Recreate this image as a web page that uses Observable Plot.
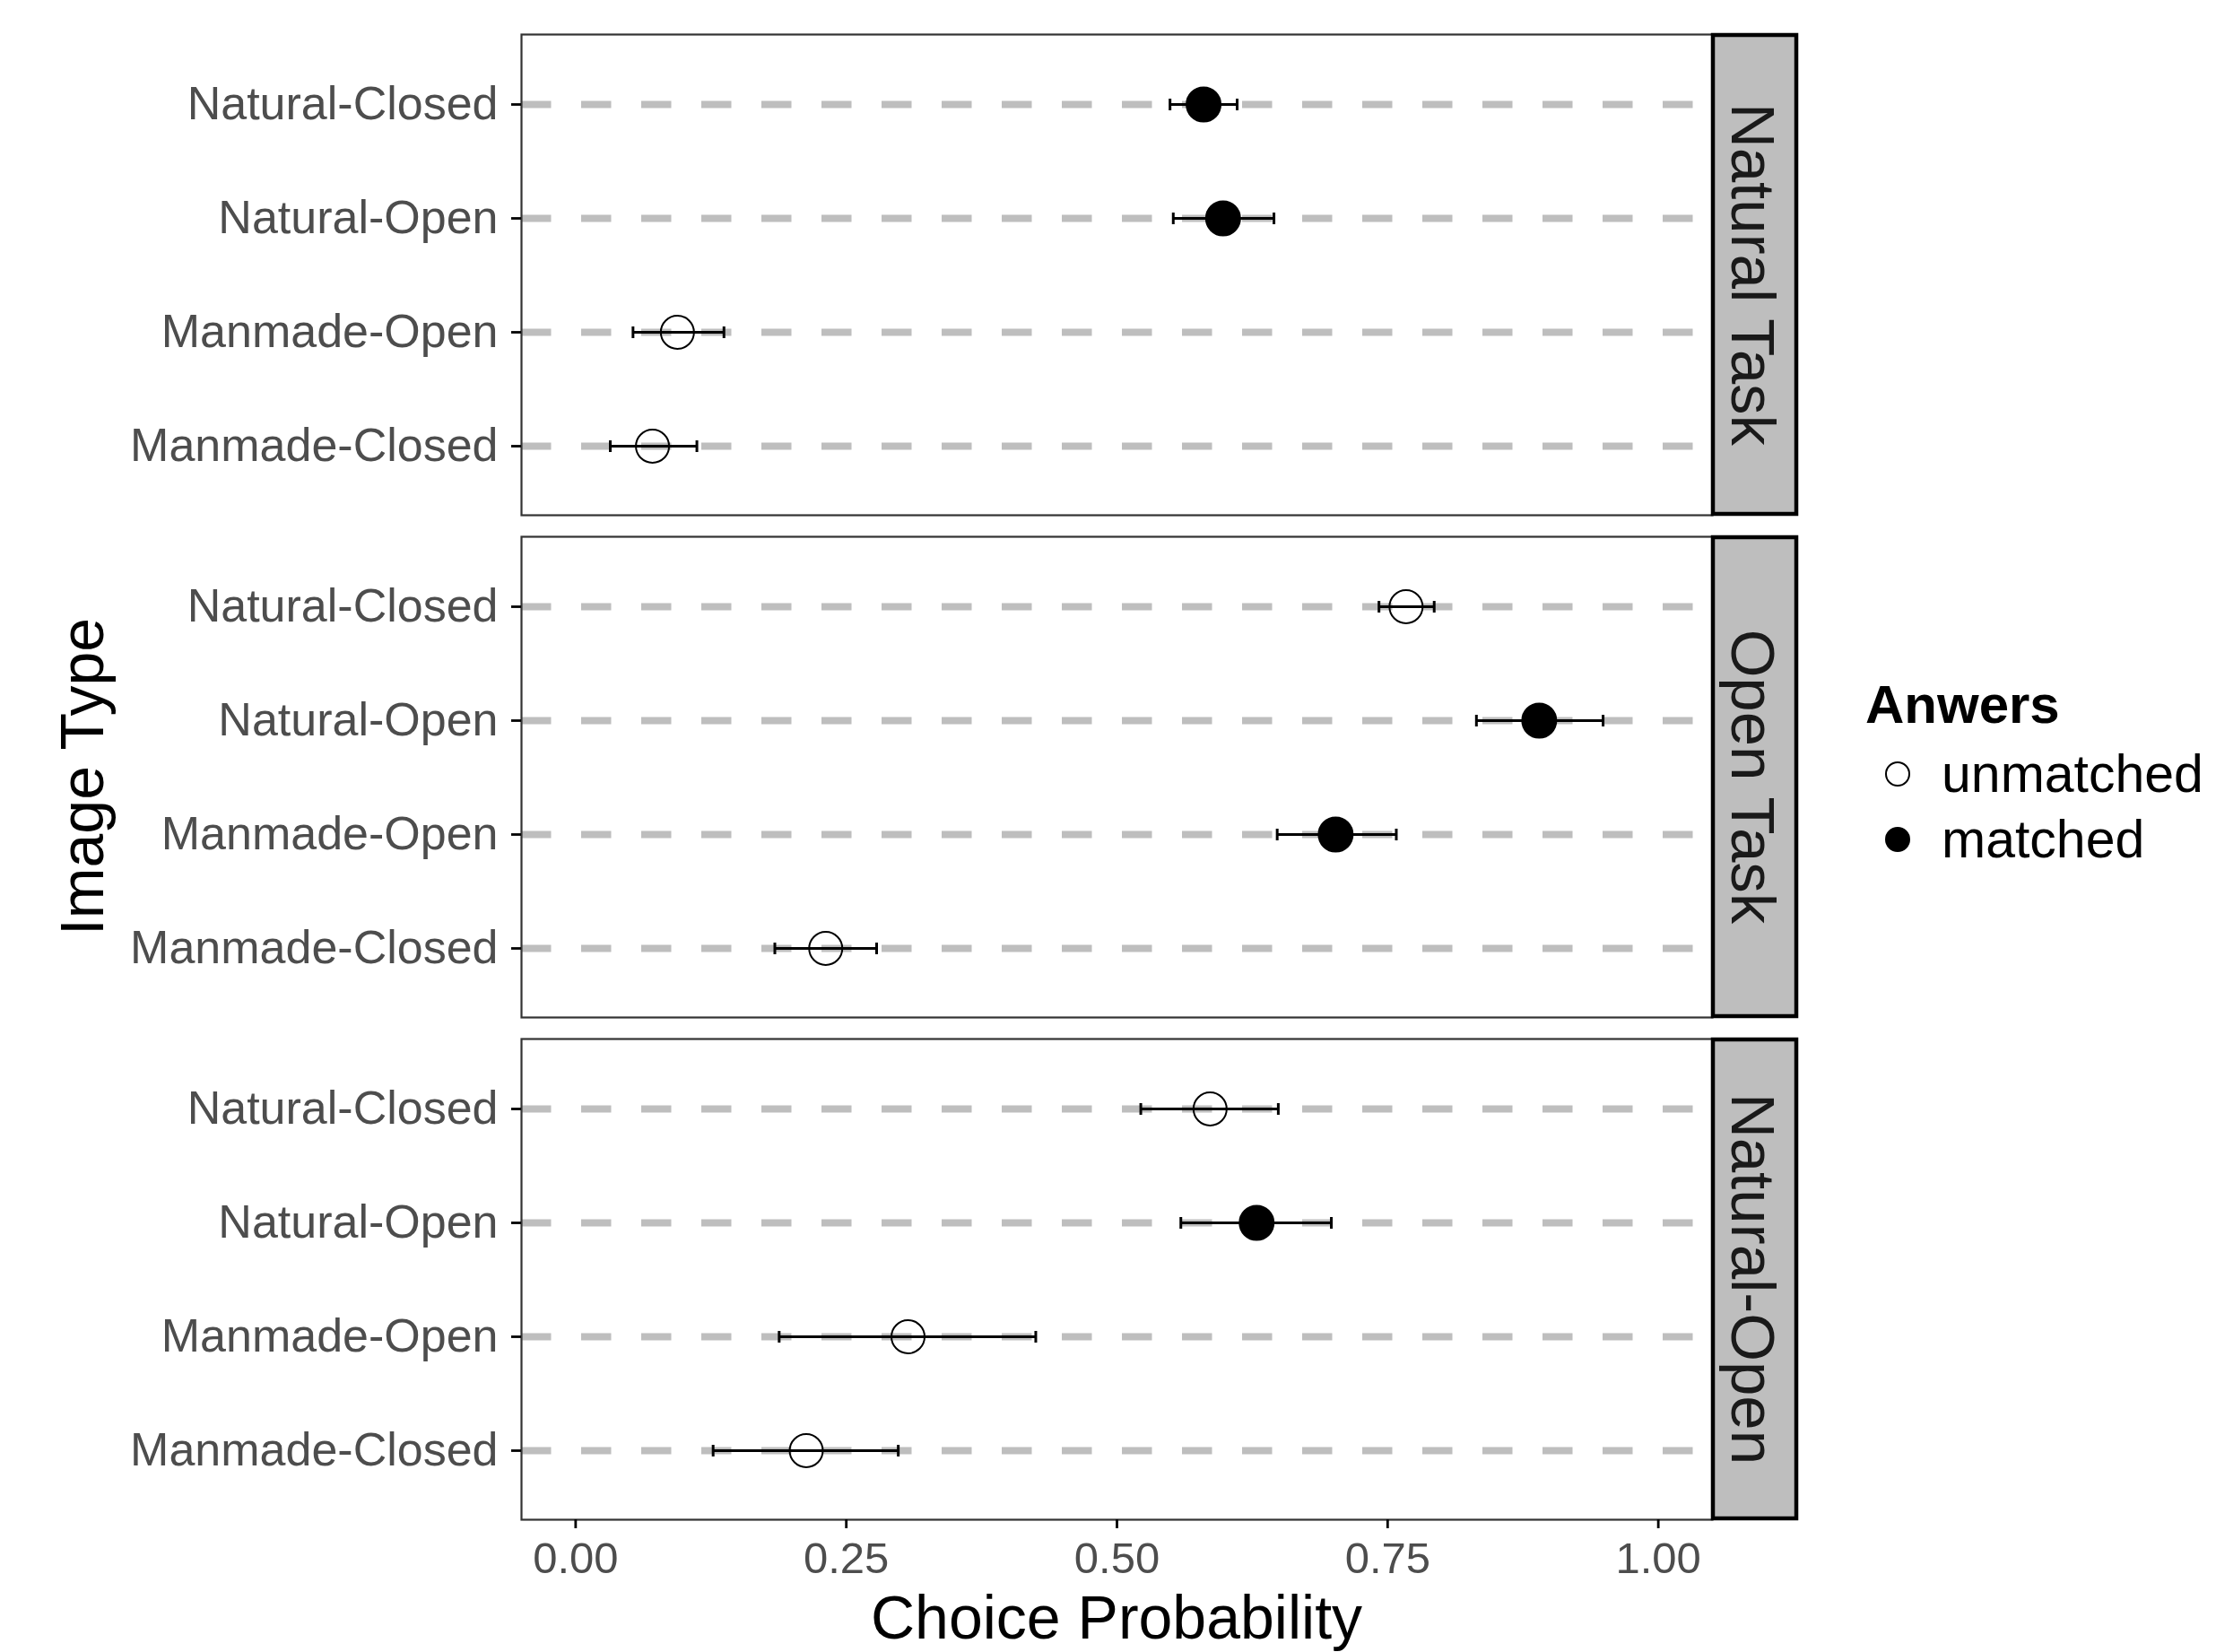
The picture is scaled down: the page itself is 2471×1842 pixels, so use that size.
<!DOCTYPE html>
<html>
<head>
<meta charset="utf-8">
<script src="https://cdn.jsdelivr.net/npm/d3@7"></script>
<script src="https://cdn.jsdelivr.net/npm/@observablehq/plot@0.6"></script>
<style>
  html, body { margin: 0; padding: 0; background: #fff; }
  #chart { position: relative; width: 2471px; height: 1842px; }
  #chart svg { font-family: "Liberation Sans", Arial, sans-serif; }
  [aria-label="y-axis tick"], [aria-label="x-axis tick"] { stroke: #333333; }
  [aria-label="y-axis tick label"], [aria-label="x-axis tick label"] { fill: #4d4d4d; }
</style>
</head>
<body>
<div id="chart"></div>
<script>
// ---- data ----
const panels = ["Natural Task", "Open Task", "Natural-Open"];
const imageTypes = ["Natural-Closed", "Natural-Open", "Manmade-Open", "Manmade-Closed"];
const answerLevels = ["unmatched", "matched"];

const task = [
  "Natural Task", "Natural Task", "Natural Task", "Natural Task",
  "Open Task", "Open Task", "Open Task", "Open Task",
  "Natural-Open", "Natural-Open", "Natural-Open", "Natural-Open"
];
const imageType = [
  "Natural-Closed", "Natural-Open", "Manmade-Open", "Manmade-Closed",
  "Natural-Closed", "Natural-Open", "Manmade-Open", "Manmade-Closed",
  "Natural-Closed", "Natural-Open", "Manmade-Open", "Manmade-Closed"
];
const answer = [
  "matched", "matched", "unmatched", "unmatched",
  "unmatched", "matched", "matched", "unmatched",
  "unmatched", "matched", "unmatched", "unmatched"
];
const prob  = [0.580, 0.598, 0.094, 0.071, 0.767, 0.890, 0.702, 0.231, 0.586, 0.629, 0.307, 0.213];
const lower = [0.549, 0.552, 0.053, 0.032, 0.742, 0.832, 0.648, 0.184, 0.522, 0.559, 0.188, 0.127];
const upper = [0.611, 0.645, 0.137, 0.112, 0.793, 0.949, 0.758, 0.278, 0.649, 0.698, 0.425, 0.298];
const xTicks = [0, 0.25, 0.5, 0.75, 1];

const xTitle = "Choice Probability";
const yTitle = "Image Type";
const legendTitle = "Anwers";

// table built from the arrays
const rows = task.map((t, i) => ({
  task: t, imageType: imageType[i], answer: answer[i],
  prob: prob[i], lower: lower[i], upper: upper[i]
}));
const gridRows = panels.flatMap(p => imageTypes.map(it => ({task: p, imageType: it})));

const W = 2471, H = 1842;
const fontFamily = '"Liberation Sans", Arial, sans-serif';

// vertical line symbol for error-bar caps
const capSymbol = {
  draw(context, size) {
    const r = Math.sqrt(size / Math.PI);
    context.moveTo(0, -r);
    context.lineTo(0, r);
  }
};

const chart = Plot.plot({
  width: W,
  height: H,
  marginLeft: 581,
  marginRight: W - 1909,
  marginTop: 37,
  marginBottom: H - 1695,
  style: {background: "white", fontFamily, overflow: "visible"},
  x: {domain: [-0.05, 1.05]},
  y: {type: "point", domain: imageTypes, padding: 0.6},
  fy: {domain: panels, paddingInner: 0.0437, paddingOuter: 0, axis: null},
  marks: [
    Plot.ruleY(gridRows, {
      y: "imageType", fy: "task",
      stroke: "#bebebe", strokeWidth: 8, strokeDasharray: "33.5,33.5"
    }),
    Plot.ruleY(rows, {
      y: "imageType", fy: "task", x1: "lower", x2: "upper",
      stroke: "black", strokeWidth: 3
    }),
    Plot.dot(rows, {
      x: "lower", y: "imageType", fy: "task", symbol: capSymbol, r: 6.5,
      fill: "none", stroke: "black", strokeWidth: 3
    }),
    Plot.dot(rows, {
      x: "upper", y: "imageType", fy: "task", symbol: capSymbol, r: 6.5,
      fill: "none", stroke: "black", strokeWidth: 3
    }),
    Plot.dot(rows, {
      filter: d => d.answer === "unmatched",
      x: "prob", y: "imageType", fy: "task",
      r: 18.5, fill: "none", stroke: "black", strokeWidth: 2
    }),
    Plot.dot(rows, {
      filter: d => d.answer === "matched",
      x: "prob", y: "imageType", fy: "task",
      r: 19, fill: "black", stroke: "black", strokeWidth: 2
    }),
    Plot.frame({stroke: "#333333", strokeWidth: 2.2}),
    Plot.axisY({
      tickSize: 11, tickPadding: 15, fontSize: 52, label: null,
      strokeWidth: 2.8
    }),
    Plot.axisX({
      ticks: xTicks, tickFormat: d3.format(".2f"),
      tickSize: 10, tickPadding: 15, fontSize: 49, label: null,
      strokeWidth: 2.8
    })
  ]
});

document.getElementById("chart").appendChild(chart);

// ---- facet strips, axis titles and legend drawn from the plot's scales ----
const svg = d3.select(chart);
const fy = chart.scale("fy");
const xs = chart.scale("x");
const fyApply = fy.apply;
const bw = fy.bandwidth;
const xRight = xs.range[1];
const xLeft = xs.range[0];
const stripW = 95;

const strips = svg.append("g").attr("aria-label", "facet strips");
panels.forEach(p => {
  const top = fyApply(p);
  strips.append("rect")
    .attr("x", xRight + 1)
    .attr("y", top + 1)
    .attr("width", stripW - 2)
    .attr("height", bw - 2)
    .attr("fill", "#bebebe")
    .attr("stroke", "black")
    .attr("stroke-width", 4.5);
  strips.append("text")
    .attr("transform", `translate(${xRight + 22},${top + bw / 2}) rotate(90)`)
    .attr("text-anchor", "middle")
    .attr("fill", "#1a1a1a")
    .attr("font-size", 69)
    .attr("font-family", fontFamily)
    .text(p);
});

const firstTop = fyApply(panels[0]);
const lastBottom = fyApply(panels[panels.length - 1]) + bw;

svg.append("text")
  .attr("x", (xLeft + xRight) / 2)
  .attr("y", lastBottom + 133)
  .attr("text-anchor", "middle")
  .attr("fill", "black")
  .attr("font-size", 68)
  .attr("font-family", fontFamily)
  .text(xTitle);

svg.append("text")
  .attr("transform", `translate(115,${(firstTop + lastBottom) / 2}) rotate(-90)`)
  .attr("text-anchor", "middle")
  .attr("fill", "black")
  .attr("font-size", 68)
  .attr("font-family", fontFamily)
  .text(yTitle);

// legend
const lg = svg.append("g").attr("aria-label", "legend").attr("text-anchor", "start");
lg.append("text")
  .attr("x", 2080).attr("y", 806)
  .attr("text-anchor", "start")
  .attr("font-size", 60).attr("font-weight", "bold")
  .attr("font-family", fontFamily).attr("fill", "black")
  .text(legendTitle);
answerLevels.forEach((a, i) => {
  const cy = 863 + i * 73;
  lg.append("circle")
    .attr("cx", 2116).attr("cy", cy).attr("r", 13)
    .attr("fill", a === "matched" ? "black" : "white")
    .attr("stroke", "black").attr("stroke-width", 2);
  lg.append("text")
    .attr("x", 2165).attr("y", cy + 20)
    .attr("text-anchor", "start")
    .attr("font-size", 59)
    .attr("font-family", fontFamily).attr("fill", "black")
    .text(a);
});
</script>
</body>
</html>
